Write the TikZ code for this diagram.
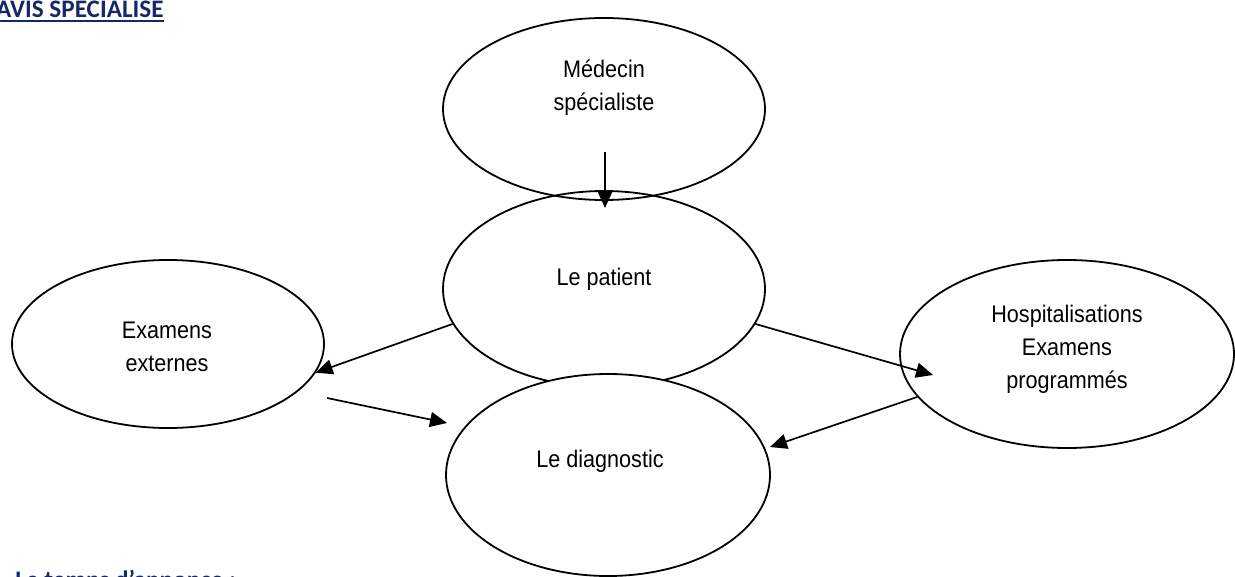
\documentclass[tikz,border=0pt]{standalone}
\usepackage{fontspec}
\setmainfont[FakeStretch=0.9]{Liberation Sans}
\newfontfamily\calibri{Carlito}
\usetikzlibrary{shapes.geometric,arrows.meta}
\definecolor{titreblue}{RGB}{20,40,105}

\begin{document}
\begin{tikzpicture}[x=0.5pt,y=-0.5pt,
	bulle/.style={draw, ellipse, line width=0.9pt, inner sep=0pt},
	txt/.style={font=\fontsize{12}{16.5}\selectfont, align=center, inner sep=0pt},
	fleche/.style={-{Triangle[length=8.5pt,width=7.5pt]}, line width=0.85pt},
	titre/.style={font=\calibri\bfseries\fontsize{12.6}{14}\selectfont, text=titreblue, inner sep=0pt}]
					\useasboundingbox (0,0) rectangle (1235,577);
					\node[titre, anchor=base east] at (164,18)(avis){AVIS SPECIALISE};
					\draw[titreblue, line width=1.1pt] ([yshift=-1.6pt]avis.base west) -- ([yshift=-1.6pt]avis.base east);
					\node[bulle, minimum width=161pt, minimum height=91pt] at (604,109)(med){};
					\node[bulle, minimum width=161pt, minimum height=98pt] at (604,289)(pat){};
					\node[bulle, fill=white, minimum width=162pt, minimum height=101pt] at (608,475)(diag){};
					\node[bulle, minimum width=156pt, minimum height=84pt] at (168,344)(ext){};
					\node[bulle, minimum width=167pt, minimum height=94pt] at (1067,354)(hosp){};
					\node[txt] at (604,88)(medt){Médecin\\spécialiste};
					\node[txt, anchor=base] at (604,285)(patt){Le patient};
					\node[txt] at (167,347)(extt){Examens\\externes};
					\node[txt] at (1067,349)(hospt){Hospitalisations\\Examens\\programmés};
					\node[txt, anchor=base] at (600,467)(diagt){Le diagnostic};
					\coordinate (medbas) at (605,152);
					\coordinate (pathaut) at (605,208);
					\coordinate (extsortie) at (327,398);
					\coordinate (diaggauche) at (447,423);
					\coordinate (hospentree) at (933,375);
					\coordinate (diagdroite) at (770,447);
					\draw[fleche] (medbas) -- (pathaut);
					\draw[fleche] (pat.193) -- (ext.-11);
					\draw[fleche] (extsortie) -- (diaggauche);
					\draw[fleche] (pat.-13) -- (hospentree);
					\draw[fleche] (hosp.196) -- (diagdroite);
					\node[titre, anchor=base west] at (15,588)(temps){Le temps d’annonce :};
				\end{tikzpicture}
\end{document}
